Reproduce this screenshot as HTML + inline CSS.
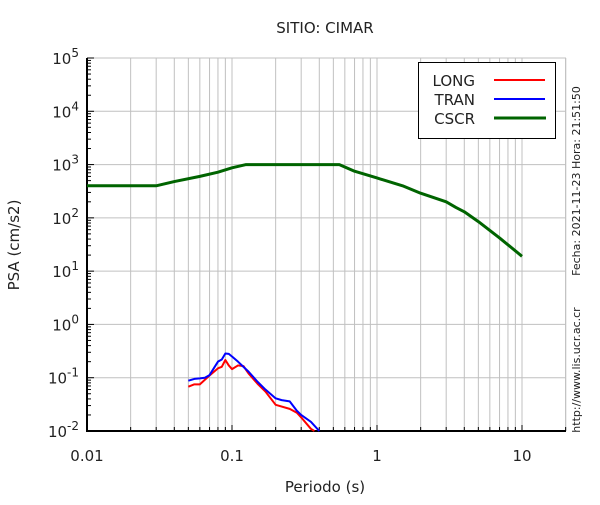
<!DOCTYPE html>
<html><head><meta charset="utf-8"><style>
body{margin:0;background:#fff}
svg text{font-family:"DejaVu Sans","Liberation Sans",sans-serif;fill:#222}
</style></head><body>
<svg id="chart" width="600" height="500" viewBox="0 0 600 500" xmlns="http://www.w3.org/2000/svg">
<g id="grid"></g>
<g id="axes"></g>
<g id="series"></g>
<text x="325" y="33" font-size="15" text-anchor="middle">SITIO: CIMAR</text>
<text x="325" y="492" font-size="15" text-anchor="middle">Periodo (s)</text>
<text x="19" y="245" font-size="15" text-anchor="middle" transform="rotate(-90 19 245)">PSA (cm/s2)</text>
<text x="580" y="181" font-size="11" text-anchor="middle" transform="rotate(-90 580 181)">Fecha: 2021-11-23 Hora: 21:51:50</text>
<text x="580" y="370" font-size="11" text-anchor="middle" transform="rotate(-90 580 370)">http://www.lis.ucr.ac.cr</text>
<g>
<rect x="418.5" y="62.5" width="137" height="76" fill="#fff" stroke="#000" stroke-width="1"/>
<text x="475" y="86" font-size="15" text-anchor="end">LONG</text>
<line x1="494" y1="80" x2="545" y2="80" stroke="#f00" stroke-width="2"/>
<text x="475" y="105" font-size="15" text-anchor="end">TRAN</text>
<line x1="494" y1="99" x2="545" y2="99" stroke="#00f" stroke-width="2"/>
<text x="475" y="124" font-size="15" text-anchor="end">CSCR</text>
<line x1="494" y1="118" x2="546" y2="118" stroke="#006400" stroke-width="3"/>
</g>
</svg>
<script>
const cscrT=[0.01,0.03,0.04,0.06,0.08,0.1,0.125,0.55,0.7,1,1.5,2,3,3.5,4,5,7,10];
const cscrV=[400,400,480,600,720,870,1000,1000,750,560,400,290,200,157,130,85,42,19];
const longT=[0.05,0.055,0.06,0.07,0.08,0.085,0.09,0.095,0.1,0.11,0.12,0.13,0.15,0.17,0.2,0.25,0.28,0.3,0.35,0.37];
const longV=[0.068,0.075,0.075,0.11,0.15,0.16,0.215,0.17,0.145,0.17,0.165,0.12,0.077,0.055,0.031,0.026,0.022,0.018,0.011,0.01];
const tranT=[0.05,0.055,0.06,0.065,0.07,0.08,0.085,0.09,0.095,0.1,0.11,0.12,0.13,0.15,0.17,0.2,0.22,0.25,0.28,0.3,0.35,0.4];
const tranV=[0.088,0.095,0.097,0.1,0.112,0.2,0.22,0.285,0.28,0.25,0.2,0.16,0.13,0.084,0.06,0.041,0.038,0.036,0.024,0.02,0.0149,0.01];
const yTicks=[-2,-1,0,1,2,3,4,5];
const xTickLabels=["0.01","0.1","1","10"];
const X0=87,X1=566,Y0=58,Y1=431;
const xs=t=>X0+(Math.log10(t)+2)*145;
const ys=v=>Y1-(Math.log10(v)+2)*(Y1-Y0)/7;
const NS="http://www.w3.org/2000/svg";
function mk(tag,parent,attrs){const e=document.createElementNS(NS,tag);for(const k in attrs)e.setAttribute(k,attrs[k]);parent.appendChild(e);return e;}
const grid=document.getElementById('grid'),axes=document.getElementById('axes'),ser=document.getElementById('series');
// vertical grid
for(let d=-2;d<=1;d++)for(let m=1;m<=9;m++){const t=m*Math.pow(10,d);if(t>20)break;const x=xs(t);
 const l=mk('line',grid,{x1:x,x2:x,y1:Y0,y2:Y1,stroke:'#c0c0c0','stroke-width':1});
 
 
 const tk=mk('line',axes,{x1:x,x2:x,y1:Y1,y2:Y1-(m==1?6:4),stroke:'#000','stroke-width':1});
 
 }
const x20=xs(20);
mk('line',grid,{x1:x20,x2:x20,y1:Y0,y2:Y1,stroke:'#c0c0c0'});
// horizontal grid and labels
yTicks.forEach(p=>{const y=ys(Math.pow(10,p));
 const l=mk('line',grid,{x1:X0,x2:X1,y1:y,y2:y,stroke:'#c0c0c0','stroke-width':1});
 
 
 for(let m=2;m<=9&&p<5;m++){const yy=ys(m*Math.pow(10,p));mk('line',axes,{x1:X0,x2:X0+4,y1:yy,y2:yy,stroke:'#000'});}
 mk('line',axes,{x1:X0,x2:X0+7,y1:y,y2:y,stroke:'#000'});
 const t=mk('text',axes,{x:X0-8,y:y+6,'font-size':15,'text-anchor':'end'});
 
 
 t.innerHTML='10<tspan dy="-7" font-size="12">'+p+'</tspan>';});
xTickLabels.forEach(s=>{const t=mk('text',axes,{x:xs(parseFloat(s)),y:Y1+30,'font-size':15,'text-anchor':'middle'});
 
 
 t.textContent=s;});
mk('line',axes,{x1:X0,x2:X0,y1:Y0,y2:Y1+1,stroke:'#000','stroke-width':2});
mk('line',axes,{x1:X0,x2:X1,y1:Y1,y2:Y1,stroke:'#000','stroke-width':2});
function series(T,V,color,w,name){const p=mk('polyline',ser,{points:T.map((t,i)=>xs(t)+','+ys(V[i])).join(' '),fill:'none',stroke:color,'stroke-width':w,'stroke-linejoin':'round'});
 
 }
series(cscrT,cscrV,'#006400',3,'cscr-line');
series(longT,longV,'#f00',2,'long-line');
series(tranT,tranV,'#00f',2,'tran-line');
</script>
</body></html>
